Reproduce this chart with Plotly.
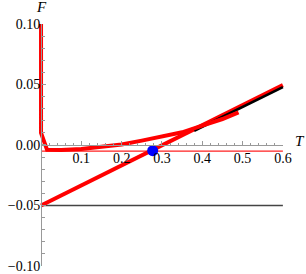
import plotly.graph_objects as go

# Data
curve_T = [0.0, 0.0, 0.015, 0.05, 0.1, 0.15, 0.2, 0.25, 0.3, 0.35, 0.4, 0.45, 0.49]
curve_F = [0.10, 0.010, -0.004, -0.0042, -0.0033, -0.0018, 0.0005, 0.0036, 0.0068, 0.0105, 0.0160, 0.0215, 0.0270]
line_T = [0.0, 0.6]
line_F = [-0.05, 0.0495]
asym_T = [0.38, 0.6]
asym_F = [0.0118, 0.0478]
hline_T = [0.0, 0.6]
hline_F = [-0.05, -0.05]
min_T = [0.0, 0.6]
min_F = [-0.005, -0.005]
point_T = [0.277]
point_F = [-0.0047]
xtick_vals = [0.1, 0.2, 0.3, 0.4, 0.5, 0.6]
xtick_text = ["0.1", "0.2", "0.3", "0.4", "0.5", "0.6"]
ytick_vals = [0.10, 0.05, 0.0, -0.05, -0.10]
ytick_text = ["0.10", "0.05", "0.00", "\u22120.05", "\u22120.10"]

xmin, xmax = -0.01, 0.64
ymin, ymax = -0.105, 0.105
FONT = "Liberation Serif"
AX = "#999999"

fig = go.Figure()
# axis-only subplot (drawn first)
fig.add_trace(go.Scatter(x=[], y=[], xaxis="x2", yaxis="y2", hoverinfo="skip"))
fig.add_trace(go.Scatter(x=hline_T, y=hline_F, mode="lines",
                         line=dict(color="#444444", width=1.6), hoverinfo="skip"))
fig.add_trace(go.Scatter(x=min_T, y=min_F, mode="lines",
                         line=dict(color="#ff2020", width=1.2), hoverinfo="skip"))
fig.add_trace(go.Scatter(x=line_T, y=line_F, mode="lines",
                         line=dict(color="#ff0000", width=4), hoverinfo="skip"))
fig.add_trace(go.Scatter(x=asym_T, y=asym_F, mode="lines",
                         line=dict(color="#000000", width=2.6), hoverinfo="skip"))
fig.add_trace(go.Scatter(x=curve_T, y=curve_F, mode="lines",
                         line=dict(color="#ff0000", width=4), hoverinfo="skip"))
fig.add_trace(go.Scatter(x=point_T, y=point_F, mode="markers",
                         marker=dict(color="#0000ff", size=11), hoverinfo="skip"))

xd = [(0 - xmin) / (xmax - xmin), (0.6 - xmin) / (xmax - xmin)]
yd = [(-0.1 - ymin) / (ymax - ymin), (0.1 - ymin) / (ymax - ymin)]
x0frac = (0 - xmin) / (xmax - xmin)
y0frac = (0 - ymin) / (ymax - ymin)

L, R, T, B = 37, 7, 18, 2
W, H = 306, 274
pw = W - L - R
ph = H - T - B

fig.update_layout(
    width=W, height=H,
    margin=dict(l=L, r=R, t=T, b=B, autoexpand=False),
    paper_bgcolor="white", plot_bgcolor="rgba(0,0,0,0)",
    showlegend=False,
    font=dict(family=FONT, size=14, color="black"),
    xaxis=dict(range=[xmin, xmax], visible=False, automargin=False),
    yaxis=dict(range=[ymin, ymax], visible=False, automargin=False),
    xaxis2=dict(domain=xd, range=[0, 0.6], anchor="free", position=y0frac,
                automargin=False,
                showline=True, linecolor=AX, linewidth=1, showgrid=False, zeroline=False,
                ticks="inside", ticklen=4, tickcolor=AX, tickwidth=1,
                tickvals=xtick_vals, ticktext=xtick_text,
                tickfont=dict(family=FONT, size=14, color="black"),
                minor=dict(ticks="inside", ticklen=2.5, tickcolor=AX, dtick=0.02, tick0=0)),
    yaxis2=dict(domain=yd, range=[-0.1, 0.1], anchor="free", position=x0frac,
                automargin=False, ticklabelstandoff=-2,
                showline=True, linecolor=AX, linewidth=1, showgrid=False, zeroline=False,
                ticks="inside", ticklen=4, tickcolor=AX, tickwidth=1,
                tickvals=ytick_vals, ticktext=ytick_text,
                tickfont=dict(family=FONT, size=14, color="black"),
                minor=dict(ticks="inside", ticklen=2.5, tickcolor=AX, dtick=0.01, tick0=0)),
    annotations=[
        dict(x=(41 - L) / pw, y=(H - B - 7) / ph, xref="paper", yref="paper",
             xanchor="center", yanchor="middle",
             text="<i>F</i>", showarrow=False, font=dict(family=FONT, size=15, color="black")),
        dict(x=(300 - L) / pw, y=(H - B - 141) / ph, xref="paper", yref="paper",
             xanchor="center", yanchor="middle",
             text="<i>T</i>", showarrow=False, font=dict(family=FONT, size=15, color="black")),
    ],
)

fig.write_html("out.html", config={"displayModeBar": False},
               post_script="document.body.style.margin='0';")
